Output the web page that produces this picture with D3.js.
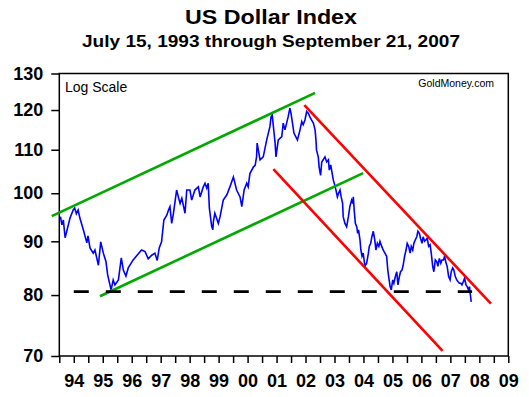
<!DOCTYPE html>
<html>
<head>
<meta charset="utf-8">
<script src="https://cdn.jsdelivr.net/npm/d3@7"></script>
<style>
  html, body { margin: 0; padding: 0; background: #fff; }
  svg { display: block; font-family: "Liberation Sans", Arial, sans-serif; }
</style>
</head>
<body>
<svg id="chart" width="529" height="397"></svg>
<script>
// ---- data ----
const dates = [
1993.54,1993.59,1993.64,1993.70,1993.77,1993.87,1993.98,1994.03,1994.09,1994.15,
1994.21,1994.33,1994.45,1994.49,1994.56,1994.67,1994.73,1994.85,1994.93,1995.02,
1995.11,1995.17,1995.23,1995.29,1995.36,1995.42,1995.54,1995.64,1995.71,1995.80,
1995.88,1996.05,1996.17,1996.34,1996.46,1996.57,1996.69,1996.80,1996.88,1996.95,
1997.03,1997.11,1997.21,1997.27,1997.32,1997.38,1997.44,1997.55,1997.61,1997.67,
1997.73,1997.84,1997.90,1998.01,1998.07,1998.18,1998.30,1998.36,1998.47,1998.53,
1998.59,1998.64,1998.68,1998.76,1998.80,1998.82,1998.87,1998.99,1999.05,1999.16,
1999.28,1999.39,1999.51,1999.62,1999.74,1999.80,1999.88,1999.97,2000.02,2000.08,
2000.20,2000.26,2000.31,2000.33,2000.43,2000.54,2000.66,2000.77,2000.81,2000.85,
2000.95,2000.98,2001.06,2001.18,2001.23,2001.29,2001.40,2001.46,2001.50,2001.60,
2001.72,2001.81,2001.87,2001.92,2001.98,2002.04,2002.10,2002.15,2002.21,2002.27,
2002.33,2002.36,2002.38,2002.44,2002.47,2002.52,2002.56,2002.61,2002.67,2002.73,
2002.79,2002.82,2002.87,2002.91,2002.96,2003.01,2003.05,2003.10,2003.14,2003.19,
2003.23,2003.28,2003.30,2003.36,2003.42,2003.48,2003.53,2003.59,2003.63,2003.65,
2003.68,2003.72,2003.77,2003.80,2003.83,2003.88,2003.91,2003.95,2003.99,2004.05,
2004.11,2004.17,2004.20,2004.25,2004.29,2004.34,2004.39,2004.43,2004.48,2004.53,
2004.57,2004.63,2004.68,2004.74,2004.80,2004.84,2004.87,2004.92,2004.96,2005.01,
2005.05,2005.10,2005.15,2005.19,2005.24,2005.28,2005.33,2005.37,2005.42,2005.47,
2005.51,2005.56,2005.61,2005.65,2005.70,2005.74,2005.79,2005.84,2005.88,2005.93,
2005.97,2006.02,2006.06,2006.11,2006.16,2006.20,2006.25,2006.30,2006.34,2006.39,
2006.43,2006.48,2006.53,2006.57,2006.62,2006.67,2006.71,2006.76,2006.80,2006.85,
2006.89,2006.94,2006.99,2007.03,2007.08,2007.12,2007.17,2007.22,2007.26,2007.31,
2007.36,2007.40,2007.45,2007.49,2007.54,2007.58,2007.63,2007.66,2007.69,2007.72
];
const usdx = [
95.0,93.3,94.3,90.7,92.3,94.7,96.4,96.8,95.6,96.4,
94.7,92.3,89.7,91.1,88.7,87.7,88.3,85.4,89.9,87.7,
86.1,83.6,82.2,80.9,82.7,81.8,82.7,86.8,84.5,83.4,
84.9,86.4,87.2,88.3,88.0,86.6,87.3,87.7,86.3,88.7,
89.9,94.3,95.3,96.4,97.1,93.6,95.7,100.7,99.2,97.8,
98.9,95.7,100.7,100.7,98.5,100.7,101.4,99.2,101.4,102.2,
101.1,102.2,96.8,93.0,92.3,94.0,95.7,93.6,95.0,98.5,
99.6,101.4,103.6,100.7,99.2,97.1,100.7,102.2,101.4,104.4,
105.9,106.3,108.3,111.6,107.6,108.3,112.4,115.7,118.2,118.7,
111.6,108.3,112.4,113.2,116.6,114.9,118.2,120.5,119.1,114.1,
112.4,114.9,117.0,116.2,117.4,119.6,119.1,118.2,117.4,116.6,
114.9,112.4,109.9,108.3,105.9,104.0,107.1,107.6,108.3,107.1,
107.6,105.2,106.4,104.8,102.9,101.8,100.7,99.2,100.0,100.7,
99.2,97.8,95.0,93.6,92.9,95.0,97.1,98.5,97.8,99.2,
96.4,93.6,92.9,91.6,92.3,90.3,88.3,87.1,87.7,85.2,
85.8,87.7,89.0,89.6,90.9,92.0,90.3,88.3,89.6,89.0,
90.0,89.0,88.3,87.7,87.1,84.5,83.3,81.5,80.9,82.7,
82.1,83.3,84.2,81.8,83.3,84.2,84.5,85.4,87.1,88.3,
89.6,89.0,87.7,89.0,88.3,89.6,90.3,90.9,92.0,91.6,
90.6,89.6,90.9,90.0,90.3,90.6,89.0,89.3,87.7,85.2,
84.2,86.4,86.1,85.2,86.7,85.8,86.4,86.4,87.1,85.8,
85.2,83.3,82.7,84.2,84.9,84.5,83.3,82.7,82.4,82.1,
82.1,81.8,82.4,83.0,81.8,81.5,80.9,81.5,80.1,78.8
];
// trend lines: [year, index value] endpoints
const upperGreen = [[1993.24, 95.1], [2002.33, 124.6]];
const lowerGreen = [[1994.905, 79.8], [2003.99, 104.5]];
const upperRed   = [[2001.96, 121.3], [2008.40, 78.5]];
const lowerRed   = [[2000.89, 105.4], [2006.73, 70.8]];
const supportLine = [[1994.0, 80.6], [2007.75, 80.6]];

const yTicks = [70, 80, 90, 100, 110, 120, 130];
const yearTicks = d3.range(1994, 2010);          // labelled years 94..09
const halfYearTicks = d3.range(1993.5, 2009.01, 0.5);
const titleText = "US Dollar Index";
const subtitleText = "July 15, 1993 through September 21, 2007";

// ---- layout ----
const svg = d3.select("#chart");
const L = 59.3, R = 508.3, T = 73.5, B = 356;
const x = d3.scaleLinear().domain([1993.5, 2009]).range([L, R]);
const y = d3.scaleLog().domain([70, 130]).range([B, T]);

svg.append("rect").attr("width", 529).attr("height", 397).attr("fill", "#fff");

svg.append("text").attr("x", 271).attr("y", 24).attr("text-anchor", "middle")
  .attr("font-size", 20.5).attr("font-weight", "bold")
  .attr("textLength", 172).attr("lengthAdjust", "spacingAndGlyphs").text(titleText);
svg.append("text").attr("x", 271).attr("y", 46.5).attr("text-anchor", "middle")
  .attr("font-size", 16.5).attr("font-weight", "bold")
  .attr("textLength", 378).attr("lengthAdjust", "spacingAndGlyphs").text(subtitleText);

svg.append("defs").append("clipPath").attr("id", "plotclip")
  .append("rect").attr("x", L).attr("y", T).attr("width", R - L).attr("height", B - T);

// frame
svg.append("rect").attr("x", L).attr("y", T).attr("width", R - L).attr("height", B - T)
  .attr("fill", "none").attr("stroke", "#000").attr("stroke-width", 1.5);

// y axis
const yAxis = svg.append("g").attr("transform", `translate(${L},0)`)
  .call(d3.axisLeft(y).tickValues(yTicks).tickFormat(d3.format("d")).tickSize(8).tickPadding(8));
yAxis.select(".domain").remove();
yAxis.selectAll("line").attr("stroke", "#000").attr("stroke-width", 1.5);
yAxis.selectAll("text").attr("font-size", 18).attr("font-weight", "bold")
  .attr("font-family", "'Liberation Sans', Arial, sans-serif").attr("fill", "#000");

// x axis: half-year tick marks
const xTickAxis = svg.append("g").attr("transform", `translate(0,${B})`)
  .call(d3.axisBottom(x).tickValues(halfYearTicks).tickFormat("").tickSize(7));
xTickAxis.select(".domain").remove();
xTickAxis.selectAll("line").attr("stroke", "#000").attr("stroke-width", 1.5);

// x axis: year labels
const xLab = svg.append("g").attr("transform", `translate(0,${B})`)
  .call(d3.axisBottom(x).tickValues(yearTicks).tickSize(0).tickPadding(18)
    .tickFormat(d => String(d % 100).padStart(2, "0")));
xLab.select(".domain").remove();
xLab.selectAll("text").attr("font-size", 18).attr("font-weight", "bold")
  .attr("font-family", "'Liberation Sans', Arial, sans-serif").attr("fill", "#000");

// annotations
svg.append("text").attr("x", 65).attr("y", 91.5).attr("font-size", 14).text("Log Scale");
svg.append("text").attr("x", 494).attr("y", 86.7).attr("text-anchor", "end")
  .attr("font-size", 10.5).text("GoldMoney.com");

// price series
const series = dates.map((d, i) => [d, usdx[i]]);
const line = d3.line().x(d => x(d[0])).y(d => y(d[1]));
svg.append("path").datum(series).attr("clip-path", "url(#plotclip)")
  .attr("d", line).attr("fill", "none").attr("stroke", "#0000ff").attr("stroke-width", 1.6)
  .attr("stroke-linejoin", "miter");

// trend lines
const tl = d3.line().x(d => x(d[0])).y(d => y(d[1]));
[[upperGreen, "#00a800"], [lowerGreen, "#00a800"], [upperRed, "#ff0000"], [lowerRed, "#ff0000"]]
  .forEach(([pts, c]) => {
    svg.append("path").datum(pts).attr("d", tl).attr("fill", "none")
      .attr("stroke", c).attr("stroke-width", 2.6);
  });
svg.append("path").datum(supportLine).attr("d", tl).attr("fill", "none")
  .attr("stroke", "#000").attr("stroke-width", 2.6).attr("stroke-dasharray", "15,17");
</script>
</body>
</html>
